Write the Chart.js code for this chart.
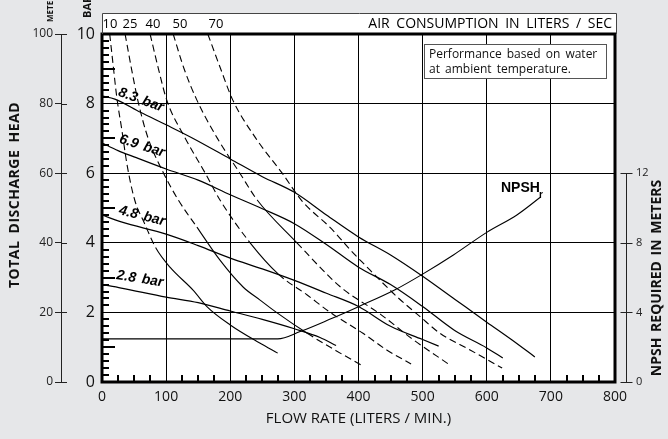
<!DOCTYPE html>
<html>
<head>
<meta charset="utf-8">
<script src="https://cdn.jsdelivr.net/npm/chart.js@4.4.1/dist/chart.umd.min.js"></script>
<style>
  html, body { margin: 0; padding: 0; background: #e6e7e9; }
  #wrap { width: 668px; height: 439px; }
</style>
</head>
<body>
<div id="wrap"><canvas id="pumpChart" width="668" height="439"></canvas></div>
<script>
// tick labels
const flowTicks = [0, 100, 200, 300, 400, 500, 600, 700, 800];
const barTicks = [0, 2, 4, 6, 8, 10];
const meterTicks = [0, 20, 40, 60, 80, 100];
const npshTicks = [0, 4, 8, 12];

// head (bar) vs flow (l/min) at each air inlet pressure
const pressureLabels = ['8.3 bar', '6.9 bar', '4.8 bar', '2.8 bar'];
const head83 = [[0, 8.22], [20, 8.13], [60, 7.75], [100, 7.39], [140, 7.02], [200, 6.41], [250, 5.9], [300, 5.45], [350, 4.8], [400, 4.17], [450, 3.65], [500, 3.04], [550, 2.38], [600, 1.72], [640, 1.2], [675, 0.72]];
const head69 = [[0, 6.87], [25, 6.65], [50, 6.47], [100, 6.12], [150, 5.8], [200, 5.38], [250, 4.98], [300, 4.55], [350, 3.95], [400, 3.3], [450, 2.8], [500, 2.17], [550, 1.48], [600, 0.98], [625, 0.69]];
const head48 = [[0, 4.8], [30, 4.6], [100, 4.25], [150, 3.92], [200, 3.56], [250, 3.25], [300, 2.92], [350, 2.55], [400, 2.17], [450, 1.6], [500, 1.22], [525, 1.03]];
const head28 = [[0, 2.8], [30, 2.7], [100, 2.44], [150, 2.28], [200, 2.04], [250, 1.8], [300, 1.53], [340, 1.28], [365, 1.05]];

// air consumption curves (liters / sec)
const airLabels = ['10', '25', '40', '50', '70'];
const air10 = [[12, 10], [17, 9.17], [23, 8.19], [31, 7.24], [39, 6.25], [51, 5.23], [66, 4.57], [84, 3.85], [106, 3.3], [142, 2.64], [164, 2.16], [200, 1.64], [246, 1.12], [274, 0.83]];
const air25 = [[36, 10], [46, 9], [57, 8], [72, 7], [96, 6], [119, 5.23], [148, 4.45], [184, 3.5], [220, 2.73], [246, 2.36], [272, 2.0], [320, 1.4], [365, 0.9], [404, 0.49]];
const air40 = [[75, 10], [88, 9], [101, 8.1], [130, 7], [161, 6], [184, 5.23], [231, 4], [275, 3.1], [320, 2.5], [356, 2.0], [407, 1.4], [444, 0.92], [482, 0.52]];
const air50 = [[111, 10], [128, 9], [148, 8.1], [180, 7], [215, 6], [242, 5.23], [304, 4], [356, 3.0], [378, 2.64], [434, 1.95], [485, 1.22], [540, 0.52]];
const air70 = [[165, 10], [185, 9], [204, 8.1], [240, 7], [281, 6], [312, 5.2], [358, 4.4], [387, 3.8], [407, 3.42], [460, 2.45], [496, 1.88], [527, 1.4], [574, 0.92], [624, 0.4]];

// NPSH required (meters) vs flow
const npshMeters = [[0, 2.48], [100, 2.48], [200, 2.48], [274, 2.48], [309, 2.9], [355, 3.6], [400, 4.33], [457, 5.3], [500, 6.2], [548, 7.3], [600, 8.6], [647, 9.6], [683, 10.6]];

const FONT = '"Open Sans", "DejaVu Sans", sans-serif';
const BOLD = '"Liberation Sans", Arial, sans-serif';

const toXY = pts => pts.map(p => ({ x: p[0], y: p[1] }));

// head band (bar) where each air curve is drawn solid instead of dashed
const solidBands = [[0, 3.9], [1.4, 4.9], [2.6, 5.2], [3.2, 5.8], null];

function pressureSet(pts) {
  return {
    data: toXY(pts), borderColor: '#000', borderWidth: 1.2, pointRadius: 0,
    cubicInterpolationMode: 'monotone', yAxisID: 'y'
  };
}
function airSet(pts, i) {
  const band = solidBands[i];
  return {
    data: toXY(pts), borderColor: '#000', borderWidth: 1.1, pointRadius: 0,
    cubicInterpolationMode: 'monotone', yAxisID: 'y',
    segment: {
      borderDash: c => (band && c.p0.parsed.y <= band[1] && c.p1.parsed.y >= band[0]) ? [] : [7, 4]
    }
  };
}

function line(ctx, x1, y1, x2, y2) {
  ctx.beginPath(); ctx.moveTo(x1, y1); ctx.lineTo(x2, y2); ctx.stroke();
}

function rotatedText(ctx, text, px, py, deg) {
  ctx.save(); ctx.translate(px, py); ctx.rotate(deg * Math.PI / 180);
  ctx.fillText(text, 0, 0); ctx.restore();
}

const decor = {
  id: 'decor',
  beforeDraw(chart) {
    const { ctx, chartArea: a } = chart;
    ctx.save();
    ctx.fillStyle = '#e6e7e9';
    ctx.fillRect(0, 0, chart.width, chart.height);
    ctx.fillStyle = '#fff';
    ctx.fillRect(a.left, a.top, a.right - a.left, a.bottom - a.top);
    ctx.fillRect(a.left, a.top - 20, a.right - a.left + 1, 20);
    ctx.restore();
  },
  afterDraw(chart) {
    const { ctx, chartArea: a, scales } = chart;
    const x = scales.x, y = scales.y, n = scales.npsh, m = scales.m;
    ctx.save();
    ctx.setLineDash([]);
    ctx.fillStyle = '#000';

    // minor ticks inside the frame: every 0.2 bar, longer at odd bars
    for (let k = 1; k < 50; k++) {
      if (k % 10 === 0) continue;
      const py = Math.round(y.getPixelForValue(k / 5));
      ctx.fillRect(a.left, py - 1, k % 5 === 0 ? 13 : 7, 2);
    }
    // every 25 l/min along the bottom
    for (let k = 1; k < 32; k++) {
      if (k % 4 === 0) continue;
      const px = Math.round(x.getPixelForValue(k * 25));
      ctx.fillRect(px - 1, a.bottom - 7, 2, 7);
    }

    // frame
    ctx.strokeStyle = '#000';
    ctx.lineWidth = 3;
    ctx.strokeRect(a.left, a.top, a.right - a.left, a.bottom - a.top);

    // air consumption strip on top
    ctx.lineWidth = 1;
    ctx.strokeStyle = '#444';
    ctx.beginPath();
    ctx.moveTo(a.left + 0.5, a.top);
    ctx.lineTo(a.left + 0.5, a.top - 20.5);
    ctx.lineTo(a.right + 1.5, a.top - 20.5);
    ctx.lineTo(a.right + 1.5, a.top);
    ctx.stroke();
    ctx.font = '14px ' + FONT;
    ctx.textBaseline = 'middle';
    ctx.textAlign = 'right';
    ctx.wordSpacing = '3px';
    ctx.fillText('AIR CONSUMPTION IN LITERS / SEC', a.right - 3, a.top - 10);
    ctx.wordSpacing = '0px';
    ctx.font = '13px ' + FONT;
    ctx.textAlign = 'center';
    const airLabelX = [8, 28, 51, 78, 114];
    airLabels.forEach((t, i) => ctx.fillText(t, a.left + airLabelX[i], a.top - 10));

    // meters axis ticks toward the plot
    ctx.strokeStyle = '#222';
    meterTicks.forEach(v => {
      const py = Math.round(m.getPixelForValue(v)) + 0.5;
      line(ctx, m.right, py, m.right + 6, py);
    });

    // NPSH axis
    const nx = a.right + 11.5;
    line(ctx, nx, n.getPixelForValue(0), nx, n.getPixelForValue(12));
    npshTicks.forEach(v => {
      const py = Math.round(n.getPixelForValue(v)) + 0.5;
      line(ctx, nx - 6, py, nx + 6, py);
    });

    // rotated titles
    ctx.fillStyle = '#111';
    ctx.textAlign = 'center';
    ctx.font = 'bold 14px ' + FONT;
    ctx.letterSpacing = '0.5px';
    ctx.wordSpacing = '3px';
    rotatedText(ctx, 'TOTAL DISCHARGE HEAD', 15, 195, -90);
    ctx.letterSpacing = '0px';
    ctx.wordSpacing = '2px';
    rotatedText(ctx, 'NPSH REQUIRED IN METERS', 657, 278, -90);
    ctx.wordSpacing = '0px';
    ctx.textAlign = 'left';
    ctx.font = 'bold 11px ' + FONT;
    rotatedText(ctx, 'BAR', 88, 18, -90);
    ctx.font = 'bold 8px ' + FONT;
    rotatedText(ctx, 'METERS', 51, 22, -90);

    // pressure curve labels
    ctx.fillStyle = '#000';
    ctx.font = 'italic bold 14px ' + BOLD;
    ctx.textAlign = 'center';
    ctx.wordSpacing = '2px';
    const lab = [[141, 100, 20], [142, 146, 18], [142, 216, 14], [140, 279, 9]];
    pressureLabels.forEach((t, i) => rotatedText(ctx, t, lab[i][0], lab[i][1], lab[i][2]));
    ctx.wordSpacing = '0px';

    // NPSHr label
    ctx.font = 'bold 14px ' + BOLD;
    ctx.textAlign = 'left';
    ctx.fillText('NPSH', 501, 188);
    ctx.font = 'bold 10px ' + BOLD;
    ctx.fillText('r', 539, 195);

    // note box
    ctx.fillStyle = '#fff';
    ctx.fillRect(424, 44, 182, 34);
    ctx.strokeStyle = '#555';
    ctx.strokeRect(424.5, 44.5, 182, 34);
    ctx.fillStyle = '#111';
    ctx.font = '12px ' + FONT;
    ctx.wordSpacing = '2px';
    ctx.fillText('Performance based on water', 429, 55);
    ctx.fillText('at ambient temperature.', 429, 70);
    ctx.wordSpacing = '0px';
    ctx.restore();
  }
};

new Chart(document.getElementById('pumpChart'), {
  type: 'line',
  data: {
    datasets: [
      pressureSet(head83), pressureSet(head69), pressureSet(head48), pressureSet(head28),
      airSet(air10, 0), airSet(air25, 1), airSet(air40, 2), airSet(air50, 3), airSet(air70, 4),
      {
        data: toXY(npshMeters), borderColor: '#000', borderWidth: 1.1, pointRadius: 0,
        cubicInterpolationMode: 'monotone', yAxisID: 'npsh'
      }
    ]
  },
  options: {
    responsive: false,
    devicePixelRatio: 1,
    animation: false,
    layout: { padding: { top: 34, left: 0, right: 0, bottom: 0 } },
    plugins: { legend: { display: false }, tooltip: { enabled: false } },
    scales: {
      x: {
        type: 'linear', min: 0, max: 800, position: 'bottom',
        afterBuildTicks: s => { s.ticks = flowTicks.map(v => ({ value: v })); },
        ticks: { color: '#111', font: { family: FONT, size: 14 }, padding: 7, maxRotation: 0 },
        grid: { color: '#000', lineWidth: 1, drawTicks: false },
        border: { display: false },
        title: { display: true, text: 'FLOW RATE (LITERS / MIN.)', color: '#111', font: { family: FONT, size: 15 }, padding: { top: 0, bottom: 11 } },
        afterFit: s => { s.height = 57; }
      },
      y: {
        type: 'linear', min: 0, max: 10, position: 'left', weight: 0,
        afterBuildTicks: s => { s.ticks = barTicks.map(v => ({ value: v })); },
        ticks: { color: '#111', font: { family: FONT, size: 16 }, padding: 7 },
        grid: { color: '#000', lineWidth: 1, drawTicks: false },
        border: { display: false },
        afterFit: s => { s.width = 41; }
      },
      m: {
        type: 'linear', min: 0, max: 100, position: 'left', weight: 5,
        afterBuildTicks: s => { s.ticks = meterTicks.map(v => ({ value: v })); },
        ticks: { color: '#222', font: { family: FONT, size: 12 }, padding: 2 },
        grid: { drawOnChartArea: false, color: '#222', tickLength: 6 },
        border: { display: true, color: '#222', width: 1 },
        afterFit: s => { s.width = 61; }
      },
      npsh: {
        type: 'linear', min: 0, max: 20, position: 'right',
        afterBuildTicks: s => { s.ticks = npshTicks.map(v => ({ value: v })); },
        ticks: { color: '#222', font: { family: FONT, size: 11 }, padding: 21 },
        grid: { drawOnChartArea: false, drawTicks: false },
        border: { display: false },
        afterFit: s => { s.width = 53; }
      }
    }
  },
  plugins: [decor]
});
</script>
</body>
</html>
